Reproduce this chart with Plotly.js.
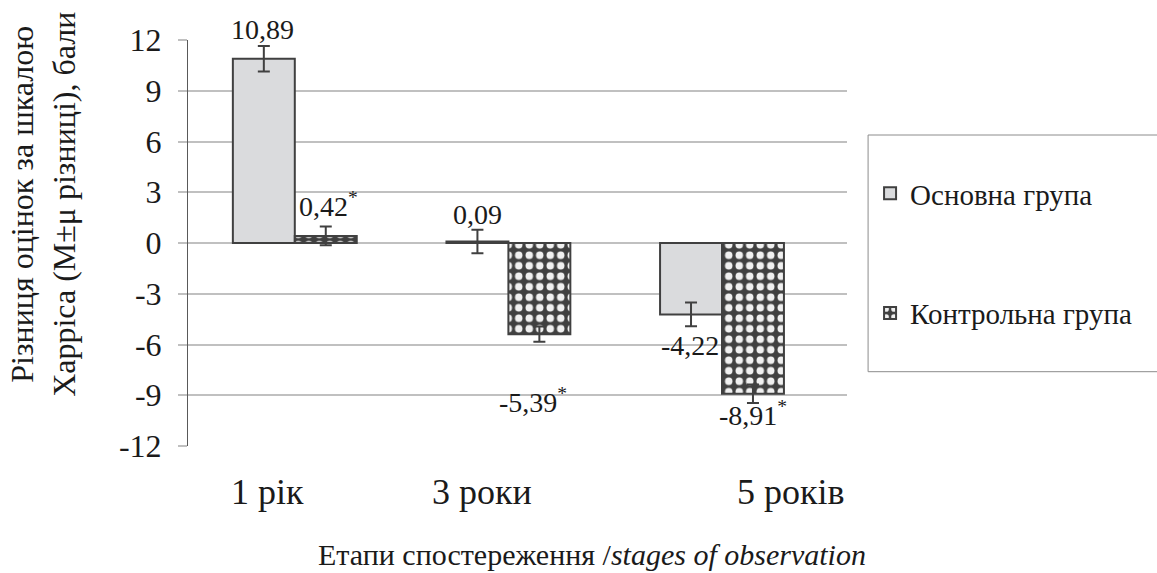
<!DOCTYPE html>
<html>
<head>
<meta charset="utf-8">
<script src="https://cdn.plot.ly/plotly-3.0.1.min.js"></script>
<style>
  html, body { margin: 0; padding: 0; background: #ffffff; }
  #chart { width: 1157px; height: 573px; }
</style>
</head>
<body>
<div id="chart"></div>
<script>
// Observation stages
const categories = ['1 рік', '3 роки', '5 років'];

// Mean change of the Harris score (M) and its error (μ)
const mainValues = [10.89, 0.09, -4.22];
const mainErrors = [0.75, 0.7, 0.7];
const controlValues = [0.42, -5.39, -8.91];
const controlErrors = [0.55, 0.45, 0.55];

// Significance marks for the control group
const controlSignificant = [true, true, true];

const seriesNames = ['Основна група', 'Контрольна група'];
const yTicks = [-12, -9, -6, -3, 0, 3, 6, 9, 12];

const serifFamily = 'Liberation Serif';
const ink = '#1a1a1a';
const edge = '#404040';

function fmt(v, star) {
  const s = v.toFixed(2).replace('.', ',');
  return star ? s + '<sup>*</sup>' : s;
}

function errBars(values) {
  return { type: 'data', array: values, visible: true, color: edge, thickness: 2, width: 6 };
}

const traces = [
  {
    type: 'bar',
    name: seriesNames[0],
    x: categories,
    y: mainValues,
    error_y: errBars(mainErrors),
    marker: { color: '#dadbdd', line: { color: edge, width: 2 } },
    legendgroup: 'g1'
  },
  {
    type: 'bar',
    name: seriesNames[1],
    x: categories,
    y: controlValues,
    error_y: errBars(controlErrors),
    marker: {
      color: edge,
      line: { color: edge, width: 2 },
      pattern: { shape: '.', bgcolor: edge, fgcolor: '#f0f0f0', size: 10.5, solidity: 0.4, fillmode: 'replace' }
    },
    legendgroup: 'g2'
  }
];

// Pixel offsets of each value label from its bar end
const mainLabelShift = [[-32, 29], [-31, 27], [-32, -31]];
const controlLabelShift = [[34, 31], [25, -66], [31, -20]];
// Horizontal offsets of the stage names under the axis
const stageLabelShift = [-27, -26, 69];

const annotations = [];
categories.forEach((c, i) => {
  annotations.push({
    x: c, y: mainValues[i], xref: 'x', yref: 'y',
    text: fmt(mainValues[i], false), showarrow: false,
    xshift: mainLabelShift[i][0], yshift: mainLabelShift[i][1],
    font: { family: serifFamily, size: 28, color: ink }
  });
  annotations.push({
    x: c, y: controlValues[i], xref: 'x', yref: 'y',
    text: fmt(controlValues[i], controlSignificant[i]), showarrow: false,
    xshift: controlLabelShift[i][0], yshift: controlLabelShift[i][1],
    font: { family: serifFamily, size: 28, color: ink }
  });
  annotations.push({
    x: c, y: -0.114, xref: 'x', yref: 'paper',
    xanchor: 'center', yanchor: 'middle',
    text: c, showarrow: false, xshift: stageLabelShift[i],
    font: { family: serifFamily, size: 36, color: ink }
  });
});

// Axis titles
annotations.push({
  xref: 'paper', yref: 'paper', x: -0.22, y: 0.594,
  xanchor: 'center', yanchor: 'middle', textangle: -90, showarrow: false,
  text: 'Різниця оцінок за шкалою<br>Харріса (M±μ різниці), бали',
  font: { family: serifFamily, size: 32, color: ink }
});
annotations.push({
  xref: 'paper', yref: 'paper', x: 0.613, y: -0.267,
  xanchor: 'center', yanchor: 'middle', showarrow: false,
  text: 'Етапи спостереження /<i>stages of observation</i>',
  font: { family: serifFamily, size: 30, color: ink }
});

const layout = {
  width: 1157,
  height: 573,
  font: { family: serifFamily, size: 28, color: ink },
  margin: { l: 188, r: 310, t: 40, b: 126.5, pad: 0 },
  paper_bgcolor: '#ffffff',
  plot_bgcolor: '#ffffff',
  barmode: 'group',
  bargap: 0.42,
  bargroupgap: 0,
  showlegend: true,
  legend: {
    x: 1.035, y: 0.685, xanchor: 'left', yanchor: 'top',
    traceorder: 'grouped', tracegroupgap: 79,
    font: { family: serifFamily, size: 29, color: ink },
    bgcolor: 'rgba(0,0,0,0)', borderwidth: 0
  },
  xaxis: {
    type: 'category',
    showgrid: false,
    showline: false,
    ticks: '',
    showticklabels: false
  },
  yaxis: {
    range: [-12, 12],
    tickmode: 'array',
    tickvals: yTicks,
    ticktext: yTicks.map(String),
    showgrid: true,
    gridcolor: '#c0c0c0',
    gridwidth: 2,
    zeroline: false,
    showline: true,
    linecolor: '#595959',
    linewidth: 1,
    ticks: 'outside',
    ticklen: 9,
    tickcolor: '#c0c0c0',
    tickwidth: 2,
    tickfont: { family: serifFamily, size: 32, color: ink },
    ticklabelstandoff: 10
  },
  shapes: [
    {
      type: 'rect', xref: 'paper', yref: 'paper',
      x0: 1.032, x1: 1.49, y0: 0.183, y1: 0.766,
      line: { color: '#8c8c8c', width: 1 }, fillcolor: 'rgba(0,0,0,0)'
    }
  ],
  annotations: annotations
};

Plotly.newPlot('chart', traces, layout, { staticPlot: true, displayModeBar: false });
</script>
</body>
</html>
